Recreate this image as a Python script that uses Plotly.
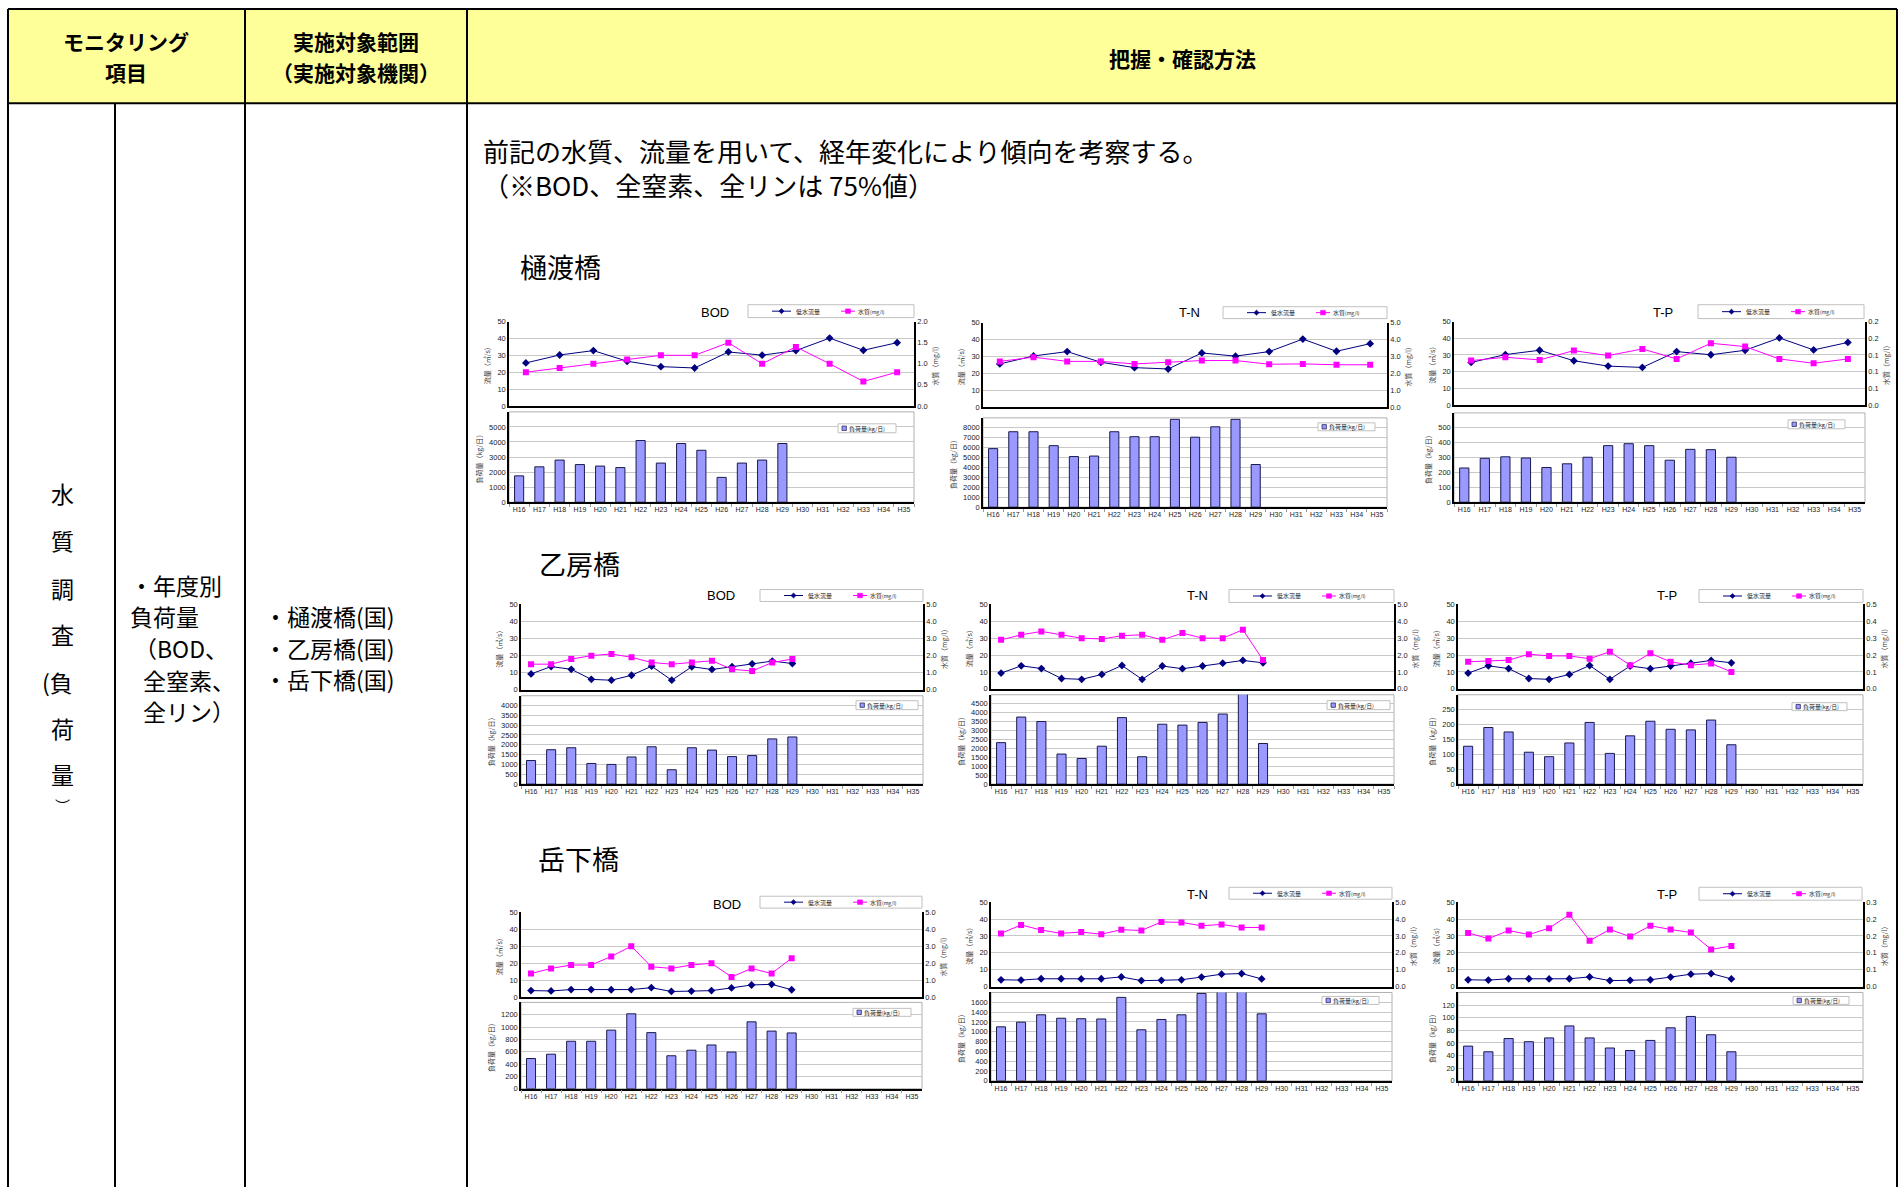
import plotly.graph_objects as go

W, H = 1899, 1192
JP = "Noto Sans CJK JP"
NUM = "Liberation Sans, Arial"

# ---------------- data ----------------
YEARS = ["H16", "H17", "H18", "H19", "H20", "H21", "H22", "H23", "H24", "H25",
         "H26", "H27", "H28", "H29", "H30", "H31", "H32", "H33", "H34", "H35"]

# 樋渡橋
HIWATASHI_FLOW = [25.5, 30.2, 32.8, 26.5, 23.3, 22.5, 32.0, 30.1, 32.8, 40.2, 33.0, 37.5]
HIWATASHI_BOD_Q = [0.80, 0.90, 1.00, 1.10, 1.20, 1.20, 1.50, 1.00, 1.40, 1.00, 0.58, 0.80]
HIWATASHI_TN_Q = [2.70, 2.95, 2.70, 2.70, 2.55, 2.65, 2.75, 2.75, 2.53, 2.55, 2.50, 2.50]
HIWATASHI_TP_Q = [0.133, 0.143, 0.135, 0.163, 0.148, 0.168, 0.138, 0.185, 0.175, 0.138, 0.125, 0.138]
HIWATASHI_BOD_LOAD = [1750, 2350, 2800, 2500, 2400, 2300, 4100, 2600, 3900, 3450, 1650, 2600, 2800, 3900]
HIWATASHI_TN_LOAD = [5900, 7600, 7600, 6200, 5100, 5150, 7600, 7100, 7100, 8850, 7050, 8100, 8850, 4300]
HIWATASHI_TP_LOAD = [230, 295, 305, 297, 233, 258, 302, 380, 393, 380, 282, 355, 353, 302]

# 乙房橋
OTOBO_FLOW = [9.3, 13.6, 12.0, 6.1, 5.6, 8.5, 13.8, 5.6, 13.5, 11.9, 13.5, 15.2, 16.8, 15.4]
OTOBO_BOD_Q = [1.5, 1.5, 1.8, 2.0, 2.1, 1.9, 1.6, 1.5, 1.6, 1.7, 1.2, 1.1, 1.6, 1.8]
OTOBO_TN_Q = [2.9, 3.2, 3.4, 3.2, 3.0, 2.95, 3.15, 3.2, 2.9, 3.3, 3.0, 3.0, 3.5, 1.7]
OTOBO_TP_Q = [0.16, 0.165, 0.17, 0.205, 0.195, 0.195, 0.178, 0.22, 0.14, 0.21, 0.16, 0.14, 0.15, 0.10]
OTOBO_BOD_LOAD = [1200, 1750, 1850, 1050, 1000, 1380, 1900, 730, 1850, 1730, 1400, 1450, 2300, 2400]
OTOBO_TN_LOAD = [2320, 3750, 3500, 1680, 1430, 2120, 3720, 1530, 3350, 3300, 3450, 3920, 5200, 2270]
OTOBO_TP_LOAD = [127, 190, 175, 107, 92, 138, 207, 103, 162, 211, 184, 182, 215, 132]

# 岳下橋
DAKESHITA_FLOW = [4.0, 3.8, 4.6, 4.6, 4.5, 4.6, 5.7, 3.5, 3.7, 4.0, 5.6, 7.3, 7.7, 4.5]
DAKESHITA_BOD_Q = [1.4, 1.7, 1.9, 1.9, 2.4, 3.0, 1.8, 1.7, 1.9, 2.0, 1.2, 1.7, 1.4, 2.3]
DAKESHITA_TN_Q = [3.15, 3.65, 3.35, 3.15, 3.23, 3.1, 3.37, 3.32, 3.83, 3.8, 3.6, 3.68, 3.5, 3.5]
DAKESHITA_TP_Q = [0.159, 0.142, 0.166, 0.154, 0.173, 0.213, 0.136, 0.169, 0.148, 0.18, 0.169, 0.16, 0.11, 0.12]
DAKESHITA_BOD_LOAD = [490, 560, 770, 770, 950, 1215, 910, 535, 625, 710, 595, 1085, 935, 905]
DAKESHITA_TN_LOAD = [1100, 1195, 1345, 1275, 1265, 1260, 1700, 1040, 1250, 1345, 1780, 1880, 1880, 1365]
DAKESHITA_TP_LOAD = [55, 46, 67, 62, 68, 87, 68, 52, 48, 64, 84, 102, 73, 46]

TP_R1_TICKTEXT = ["0.0", "0.1", "0.1", "0.1", "0.2", "0.2"]
TP_R3_TICKTEXT = ["0.0", "0.1", "0.1", "0.2", "0.2", "0.3"]

SERIES_FLOW = "低水流量"
SERIES_Q = "水質<span style='font-size:5px'>(mg/l)</span>"
SERIES_LOAD = "負荷量<span style='font-size:5.5px'>(kg/日)</span>"

# ---------------- chart specs (data + styling) ----------------
CHARTS = [
    dict(title="BOD", flow=HIWATASHI_FLOW, q=HIWATASHI_BOD_Q, load=HIWATASHI_BOD_LOAD, ntop=12,
         qmax=2.0, qticks=[0, 0.5, 1.0, 1.5, 2.0], qtext=None, lmax=6000, ldt=1000, ltop=5000,
         L=509, R=914, T=320, B=405, T2=411, B2=502, tx=715, ty=311,
         lg=(748, 303, 914, 316), bl=(838, 423, 896, 432)),
    dict(title="T-N", flow=HIWATASHI_FLOW, q=HIWATASHI_TN_Q, load=HIWATASHI_TN_LOAD, ntop=12,
         qmax=5.0, qticks=[0, 1, 2, 3, 4, 5], qtext=None, lmax=9000, ldt=1000, ltop=8000,
         L=983, R=1387, T=321, B=406, T2=417, B2=507, tx=1189, ty=311,
         lg=(1223, 305, 1387, 317), bl=(1318, 422, 1375, 430)),
    dict(title="T-P", flow=HIWATASHI_FLOW, q=HIWATASHI_TP_Q, load=HIWATASHI_TP_LOAD, ntop=12,
         qmax=0.25, qticks=[0, 0.05, 0.10, 0.15, 0.20, 0.25], qtext=TP_R1_TICKTEXT, lmax=600, ldt=100, ltop=500,
         L=1454, R=1865, T=320, B=404, T2=412, B2=502, tx=1663, ty=311,
         lg=(1698, 303, 1864, 317), bl=(1788, 419, 1845, 428)),
    dict(title="BOD", flow=OTOBO_FLOW, q=OTOBO_BOD_Q, load=OTOBO_BOD_LOAD, ntop=20,
         qmax=5.0, qticks=[0, 1, 2, 3, 4, 5], qtext=None, lmax=4500, ldt=500, ltop=4000,
         L=521, R=923, T=605, B=691, T2=697, B2=786, tx=721, ty=596,
         lg=(760, 590, 923, 602), bl=(856, 702, 918, 711)),
    dict(title="T-N", flow=OTOBO_FLOW, q=OTOBO_TN_Q, load=OTOBO_TN_LOAD, ntop=20,
         qmax=5.0, qticks=[0, 1, 2, 3, 4, 5], qtext=None, lmax=5000, ldt=500, ltop=4500,
         L=991, R=1394, T=605, B=690, T2=696, B2=786, tx=1197, ty=596,
         lg=(1229, 590, 1394, 603), bl=(1327, 702, 1390, 711)),
    dict(title="T-P", flow=OTOBO_FLOW, q=OTOBO_TP_Q, load=OTOBO_TP_LOAD, ntop=20,
         qmax=0.5, qticks=[0, 0.1, 0.2, 0.3, 0.4, 0.5], qtext=None, lmax=300, ldt=50, ltop=250,
         L=1458, R=1863, T=605, B=690, T2=696, B2=786, tx=1667, ty=596,
         lg=(1699, 590, 1863, 603), bl=(1792, 704, 1847, 712)),
    dict(title="BOD", flow=DAKESHITA_FLOW, q=DAKESHITA_BOD_Q, load=DAKESHITA_BOD_LOAD, ntop=20,
         qmax=5.0, qticks=[0, 1, 2, 3, 4, 5], qtext=None, lmax=1400, ldt=200, ltop=1200,
         L=521, R=922, T=915, B=1001, T2=1006, B2=1093, tx=727, ty=907,
         lg=(760, 899, 922, 911), bl=(853, 1012, 911, 1020)),
    dict(title="T-N", flow=DAKESHITA_FLOW, q=DAKESHITA_TN_Q, load=DAKESHITA_TN_LOAD, ntop=20,
         qmax=5.0, qticks=[0, 1, 2, 3, 4, 5], qtext=None, lmax=1800, ldt=200, ltop=1600,
         L=991, R=1392, T=905, B=990, T2=996, B2=1085, tx=1197, ty=897,
         lg=(1229, 890, 1392, 902), bl=(1322, 1000, 1379, 1008)),
    dict(title="T-P", flow=DAKESHITA_FLOW, q=DAKESHITA_TP_Q, load=DAKESHITA_TP_LOAD, ntop=20,
         qmax=0.25, qticks=[0, 0.05, 0.10, 0.15, 0.20, 0.25], qtext=TP_R3_TICKTEXT, lmax=140, ldt=20, ltop=120,
         L=1458, R=1863, T=905, B=990, T2=996, B2=1085, tx=1667, ty=897,
         lg=(1699, 890, 1862, 903), bl=(1793, 1000, 1849, 1008)),
]

FLOW_COLOR = "#000080"
Q_COLOR = "#ff00ff"
BAR_COLOR = "#9999ff"
BAR_EDGE = "#1a1a4d"


def px(x):
    return x / W


def py(y):
    return 1 - y / H


fig = go.Figure()
layout = dict(width=W, height=H, margin=dict(l=0, r=0, t=0, b=0),
              paper_bgcolor="white", plot_bgcolor="rgba(0,0,0,0)",
              bargap=0.55, showlegend=False)
shapes = []
annotations = []

GRID = "#c8c8c8"
TICKF = dict(family=NUM, size=7.5, color="#222222")
TITLEF = dict(family=JP, size=7, color="#333333")


def axname(kind, n):
    return kind if n == 1 else f"{kind}{n}"


def txt(s, x, y, size, anchor="left", bold=False, family=JP, color="black"):
    annotations.append(dict(text=f"<b>{s}</b>" if bold else s, x=px(x), y=py(y),
                            xref="paper", yref="paper", showarrow=False,
                            xanchor=anchor, yanchor="middle", align="left",
                            font=dict(family=family, size=size, color=color)))


def pline(x0, y0, x1, y1, color, width):
    shapes.append(dict(type="line", xref="paper", yref="paper", x0=px(x0), x1=px(x1),
                       y0=py(y0), y1=py(y1), line=dict(color=color, width=width)))


def prect(x0, y0, x1, y1, fill, edge, width=1, layer="above"):
    shapes.append(dict(type="rect", xref="paper", yref="paper", layer=layer,
                       x0=px(x0), x1=px(x1), y0=py(y1), y1=py(y0),
                       fillcolor=fill, line=dict(color=edge, width=width)))


def diamond(cx, cy, r, color):
    path = (f"M {px(cx)},{py(cy - r)} L {px(cx + r)},{py(cy)} "
            f"L {px(cx)},{py(cy + r)} L {px(cx - r)},{py(cy)} Z")
    shapes.append(dict(type="path", xref="paper", yref="paper", path=path,
                       fillcolor=color, line=dict(color=color, width=0.5)))


for i, c in enumerate(CHARTS):
    xt, xb = 2 * i + 1, 2 * i + 2
    yl, yr, yb = 3 * i + 1, 3 * i + 2, 3 * i + 3
    xs_top = list(range(len(c["flow"])))

    fig.add_trace(go.Scatter(
        x=xs_top, y=c["flow"], xaxis=axname("x", xt), yaxis=axname("y", yl),
        mode="lines+markers", name="低水流量",
        line=dict(color=FLOW_COLOR, width=1),
        marker=dict(symbol="diamond", size=6, color=FLOW_COLOR)))
    fig.add_trace(go.Scatter(
        x=xs_top, y=c["q"], xaxis=axname("x", xt), yaxis=axname("y", yr),
        mode="lines+markers", name="水質(mg/l)",
        line=dict(color=Q_COLOR, width=1),
        marker=dict(symbol="square", size=6, color=Q_COLOR)))
    fig.add_trace(go.Bar(
        x=YEARS[:len(c["load"])], y=c["load"], xaxis=axname("x", xb), yaxis=axname("y", yb),
        name="負荷量(kg/日)",
        marker=dict(color=BAR_COLOR, line=dict(color=BAR_EDGE, width=1))))

    dom_x = [px(c["L"]), px(c["R"])]
    layout[axname("xaxis", xt)] = dict(
        domain=dom_x, anchor=axname("y", yl), range=[-0.5, c["ntop"] - 0.5],
        showticklabels=False, ticks="", showgrid=False, zeroline=False,
        showline=True, linecolor="black", linewidth=1.5, fixedrange=True)
    layout[axname("yaxis", yl)] = dict(
        domain=[py(c["B"]), py(c["T"])], anchor=axname("x", xt), range=[0, 50],
        tickvals=[0, 10, 20, 30, 40, 50], tickfont=TICKF, showgrid=True, gridcolor=GRID,
        zeroline=False, showline=True, linecolor="black", linewidth=1.5, ticks="",
        title=dict(text="流量（㎥/s）", font=TITLEF, standoff=6))
    yaxis_r = dict(
        overlaying=axname("y", yl), side="right", anchor=axname("x", xt), range=[0, c["qmax"]],
        tickvals=c["qticks"], tickfont=TICKF, showgrid=False, zeroline=False,
        showline=True, linecolor="black", linewidth=1.5, ticks="",
        title=dict(text="水質（mg/l）", font=TITLEF, standoff=6))
    if c["qtext"] is not None:
        yaxis_r["ticktext"] = c["qtext"]
    else:
        yaxis_r["tickformat"] = ".1f"
    layout[axname("yaxis", yr)] = yaxis_r

    layout[axname("xaxis", xb)] = dict(
        domain=dom_x, anchor=axname("y", yb), type="category", categoryarray=YEARS,
        categoryorder="array", range=[-0.5, len(YEARS) - 0.5], tickfont=dict(TICKF, size=7),
        tickangle=0, tickson="boundaries", ticks="outside", ticklen=3, tickcolor="#999999",
        showgrid=False, showline=True, linecolor="black", linewidth=1.5, fixedrange=True)
    layout[axname("yaxis", yb)] = dict(
        domain=[py(c["B2"]), py(c["T2"])], anchor=axname("x", xb), range=[0, c["lmax"]],
        tickvals=list(range(0, c["ltop"] + 1, c["ldt"])),
        tickfont=TICKF, showgrid=True, gridcolor=GRID, zeroline=False,
        showline=True, linecolor="black", linewidth=1.5, ticks="",
        title=dict(text="負荷量（kg/日）", font=TITLEF, standoff=6))

    # light frame for bottom plot area
    prect(c["L"], c["T2"], c["R"], c["B2"], "rgba(0,0,0,0)", "#b0b0b0", 1, "below")

    # chart title
    txt(c["title"], c["tx"], c["ty"], 13, "center", family=NUM)

    # legend for lines
    x0, y0, x1, y1 = c["lg"]
    ym = (y0 + y1) / 2
    prect(x0, y0, x1, y1, "white", "#c0c0c0", 1)
    pline(x0 + 24, ym, x0 + 43, ym, FLOW_COLOR, 1)
    diamond(x0 + 33.5, ym, 2.6, FLOW_COLOR)
    txt(SERIES_FLOW, x0 + 46, ym, 6, "left", color="#222222")
    pline(x0 + 93, ym, x0 + 107, ym, Q_COLOR, 1)
    prect(x0 + 97.5, ym - 2.3, x0 + 102.5, ym + 2.3, Q_COLOR, Q_COLOR, 0.5)
    txt(SERIES_Q, x0 + 108, ym, 6, "left", color="#222222")

    # legend for bars
    x0, y0, x1, y1 = c["bl"]
    ym = (y0 + y1) / 2
    prect(x0, y0, x1, y1, "white", "#c0c0c0", 1)
    prect(x0 + 4, ym - 2.2, x0 + 8.4, ym + 2.2, BAR_COLOR, BAR_EDGE, 0.7)
    txt(SERIES_LOAD, x0 + 9, ym, 6, "left", color="#222222")

# ---------------- table frame ----------------
LEFT, RIGHT, TOP, HEAD_B = 8, 1897, 5, 100
prect(LEFT, TOP, RIGHT, HEAD_B, "#ffff99", "rgba(0,0,0,0)", 0, "below")
for (x0, y0, x1, y1) in [(LEFT, TOP, RIGHT, TOP), (LEFT, HEAD_B, RIGHT, HEAD_B),
                         (LEFT, TOP, LEFT, H), (RIGHT, TOP, RIGHT, H),
                         (245, TOP, 245, H), (467, TOP, 467, H), (115, HEAD_B, 115, H)]:
    pline(x0, y0, x1, y1, "black", 2)

# header
txt("モニタリング", 126, 37, 21, "center", True)
txt("項目", 126, 69, 21, "center", True)
txt("実施対象範囲", 356, 37, 21, "center", True)
txt("（実施対象機関）", 356, 69, 21, "center", True)
txt("把握・確認方法", 1182, 54, 21, "center", True)

# left column (vertical)
for ch, yy in zip(["水", "質", "調", "査"], [493, 540, 588, 635]):
    txt(ch, 62, yy, 23, "center")
txt("(負", 57, 683, 23, "center")
txt("荷", 62, 730, 23, "center")
txt("量", 62, 776, 23, "center")
txt("︶", 62, 808, 15, "center")

# second column
txt("・年度別", 128, 585, 23)
txt("負荷量", 128, 617, 23)
txt("（BOD、", 132, 649, 23)
txt("全窒素、", 141, 681, 23)
txt("全リン）", 141, 712, 23)

# third column
txt("・樋渡橋(国)", 262, 617, 23)
txt("・乙房橋(国)", 262, 649, 23)
txt("・岳下橋(国)", 262, 680, 23)

# main text
txt("前記の水質、流量を用いて、経年変化により傾向を考察する。<br>"
    "（※BOD、全窒素、全リンは 75%値）", 481, 165, 26)
txt("樋渡橋", 518, 264, 27)
txt("乙房橋", 537, 564, 27)
txt("岳下橋", 536, 861, 27)

layout["shapes"] = shapes
layout["annotations"] = annotations
fig.update_layout(**layout)

fig.write_html("out.html", config={"displayModeBar": False},
               post_script="document.body.style.margin='0';document.body.style.overflow='hidden';")
